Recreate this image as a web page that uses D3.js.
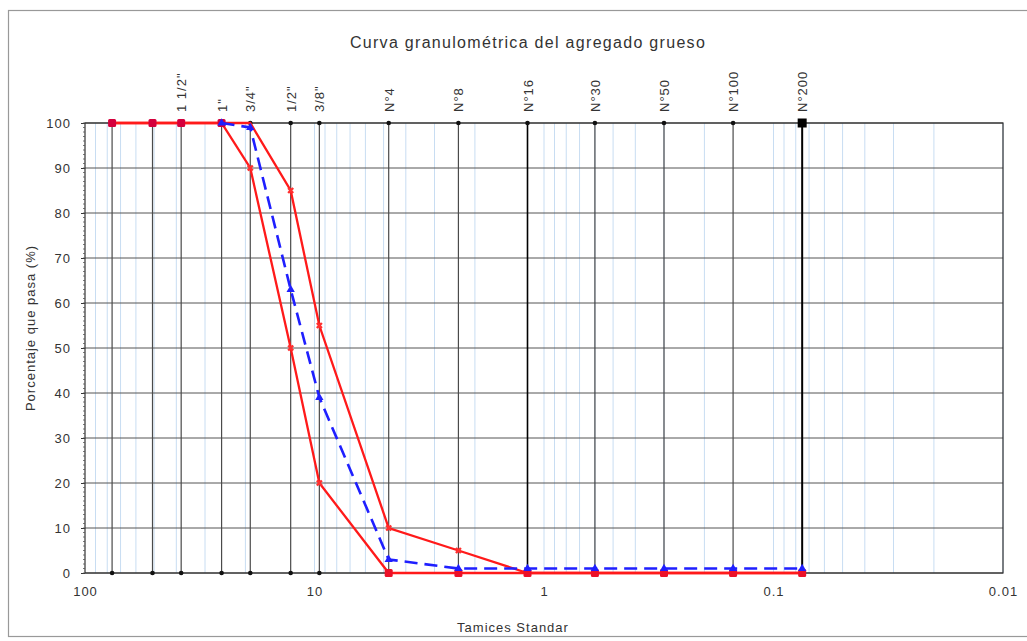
<!DOCTYPE html>
<html>
<head>
<meta charset="utf-8">
<script src="https://cdn.jsdelivr.net/npm/d3@7"></script>
<style>
  body { margin: 0; background: #fff; }
  svg text { font-family: "Liberation Sans", Arial, sans-serif; fill: #333; letter-spacing: 1px; }
</style>
</head>
<body>
<svg id="chart" width="1027" height="641"></svg>
<script>
// sieve openings (mm) and their names
const sieveSizes = [76.2, 50.8, 38.1, 25.4, 19.05, 12.7, 9.525, 4.75, 2.36, 1.18, 0.6, 0.3, 0.15, 0.075];
const sieveLabels = ['', '', '1 1/2"', '1"', '3/4"', '1/2"', '3/8"', 'N°4', 'N°8', 'N°16', 'N°30', 'N°50', 'N°100', 'N°200'];

// % passing
const upperLimit = [100, 100, 100, 100, 100, 85, 55, 10, 5, 0, 0, 0, 0, 0];
const lowerLimit = [100, 100, 100, 100, 90, 50, 20, 0, 0, 0, 0, 0, 0, 0];
const sample = [null, null, null, 100, 99, 63, 39, 3, 1, 1, 1, 1, 1, 1];

const xTicks = [100, 10, 1, 0.1, 0.01];
const yTicks = [0, 10, 20, 30, 40, 50, 60, 70, 80, 90, 100];

const svg = d3.select('#chart');
const pLeft = 85, pRight = 1003, pTop = 123, pBottom = 573;

const x = d3.scaleLog().domain([100, 0.01]).range([pLeft, pRight]);
const y = d3.scaleLinear().domain([0, 100]).range([pBottom, pTop]);

// outer border
svg.append('rect')
    .attr('x', 8.5).attr('y', 10.5)
    .attr('width', 1030).attr('height', 626)
    .attr('fill', 'none').attr('stroke', '#999').attr('stroke-width', 1.2);

svg.append('text')
    .attr('x', 528).attr('y', 48)
    .attr('text-anchor', 'middle')
    .style('font-size', '16px')
    .style('letter-spacing', '1.3px')
    .text('Curva granulométrica del agregado grueso');

// minor log grid (light blue)
let minor = [];
for (let d = 0.01; d < 100; d *= 10) {
    for (let k = 1; k < 10; k++) minor.push(+(d * k).toPrecision(3));
}
svg.append('g').selectAll('line')
    .data(minor)
    .join('line')
    .attr('x1', d => x(d)).attr('x2', d => x(d))
    .attr('y1', pTop).attr('y2', pBottom)
    .attr('stroke', '#c8ddf2').attr('stroke-width', 1);

// horizontal grid
svg.append('g').selectAll('line')
    .data(yTicks)
    .join('line')
    .attr('x1', pLeft).attr('x2', pRight)
    .attr('y1', d => y(d)).attr('y2', d => y(d))
    .attr('stroke', '#555').attr('stroke-width', 1);

// sieve lines
svg.append('g').selectAll('line')
    .data(sieveSizes)
    .join('line')
    .attr('x1', d => x(d)).attr('x2', d => x(d))
    .attr('y1', pTop).attr('y2', pBottom)
    .attr('stroke', (d, i) => (sieveLabels[i] === 'N°16' || sieveLabels[i] === 'N°200') ? '#000' : '#4a4a4a')
    .attr('stroke-width', (d, i) => sieveLabels[i] === 'N°200' ? 2 : (sieveLabels[i] === 'N°16' ? 1.6 : 1.2));

// frame
svg.append('rect')
    .attr('x', pLeft).attr('y', pTop)
    .attr('width', pRight - pLeft).attr('height', pBottom - pTop)
    .attr('fill', 'none').attr('stroke', '#333').attr('stroke-width', 1.2);

// y axis
const yAxis = d3.axisLeft(y).tickValues(yTicks).tickSize(4).tickFormat(d3.format('d'));
const gy = svg.append('g').attr('transform', `translate(${pLeft},0)`).call(yAxis);
gy.select('.domain').remove();
gy.selectAll('line').attr('stroke', '#333');
gy.selectAll('text').style('font-size', '13px').attr('x', -14).attr('dy', '0.35em').attr('fill', '#333');
svg.append('g').selectAll('line')
    .data(d3.range(0, 101, 1))
    .join('line')
    .attr('x1', pLeft - 2).attr('x2', pLeft)
    .attr('y1', d => y(d)).attr('y2', d => y(d))
    .attr('stroke', '#555').attr('stroke-width', 0.8);

// x axis labels
const xAxis = d3.axisBottom(x).tickValues(xTicks).tickSize(0).tickFormat(d => String(d));
const gx = svg.append('g').attr('transform', `translate(0,${pBottom})`).call(xAxis);
gx.select('.domain').remove();
gx.selectAll('text').style('font-size', '13px').attr('y', 14).attr('fill', '#333');

svg.append('text')
    .attr('x', 513).attr('y', 632)
    .attr('text-anchor', 'middle')
    .style('font-size', '13px')
    .text('Tamices Standar');

svg.append('text')
    .attr('transform', 'translate(35,328) rotate(-90)')
    .attr('text-anchor', 'middle')
    .style('font-size', '13px')
    .text('Porcentaje que pasa (%)');

// sieve names on top
svg.append('g').selectAll('text')
    .data(sieveSizes)
    .join('text')
    .attr('transform', d => `translate(${x(d) + 5},${pTop - 11}) rotate(-90)`)
    .style('font-size', '13px')
    .text((d, i) => sieveLabels[i]);

// dots at sieve ends
svg.append('g').selectAll('circle')
    .data(sieveSizes.flatMap(s => [[s, 0], [s, 100]]))
    .join('circle')
    .attr('cx', d => x(d[0])).attr('cy', d => y(d[1]))
    .attr('r', 2.3).attr('fill', '#111');
svg.append('rect')
    .attr('x', x(0.075) - 4.5).attr('y', y(100) - 4.5)
    .attr('width', 9).attr('height', 9).attr('fill', '#000');

// curves
function pts(vals) {
    return sieveSizes.map((s, i) => [s, vals[i]]).filter(p => p[1] !== null);
}
const line = d3.line().x(d => x(d[0])).y(d => y(d[1]));

svg.append('path').datum(pts(upperLimit))
    .attr('d', line).attr('fill', 'none')
    .attr('stroke', '#ff1a1a').attr('stroke-width', 2.3);
svg.append('path').datum(pts(lowerLimit))
    .attr('d', line).attr('fill', 'none')
    .attr('stroke', '#ff1a1a').attr('stroke-width', 2.3);

// limit markers: small x in the slope, squares at 0 / 100
const limitPts = pts(upperLimit).concat(pts(lowerLimit));
svg.append('g').selectAll('path')
    .data(limitPts.filter(d => d[1] > 0 && d[1] < 100))
    .join('path')
    .attr('d', d3.symbol(d3.symbolCross, 28))
    .attr('transform', d => `translate(${x(d[0])},${y(d[1])}) rotate(45)`)
    .attr('fill', '#ff3030');

svg.append('g').selectAll('rect')
    .data(pts(lowerLimit).filter(d => d[1] === 0 || d[1] === 100))
    .join('rect')
    .attr('x', d => x(d[0]) - 4).attr('y', d => y(d[1]) - 4)
    .attr('width', 8).attr('height', 8)
    .attr('rx', 1.5)
    .attr('fill', d => d[1] === 100 ? '#d4003c' : '#ec1028');

// sample curve
svg.append('path').datum(pts(sample))
    .attr('d', line).attr('fill', 'none')
    .attr('stroke', '#1f1fff').attr('stroke-width', 2.6)
    .attr('stroke-dasharray', '13,7');
svg.append('g').selectAll('path')
    .data(pts(sample))
    .join('path')
    .attr('d', d3.symbol(d3.symbolTriangle, 30))
    .attr('transform', d => `translate(${x(d[0])},${y(d[1])})`)
    .attr('fill', '#1f1fff');
</script>
</body>
</html>
